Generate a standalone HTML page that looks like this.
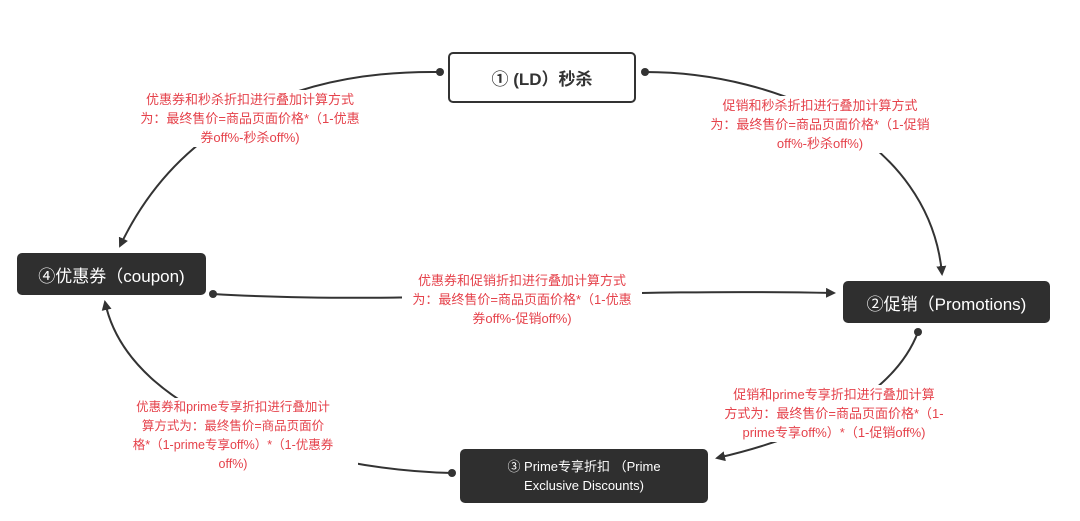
<!DOCTYPE html>
<html><head><meta charset="utf-8"><style>
body{margin:0;width:1080px;height:521px;background:#fff;position:relative;overflow:hidden;font-family:"Liberation Sans","Noto Sans CJK SC",sans-serif}
.n{position:absolute;box-sizing:border-box;display:flex;align-items:center;justify-content:center;text-align:center;border-radius:5px}
.d{background:#2f2f2f;color:#fff}
.l{position:absolute;color:#e5424b;font-size:13px;line-height:19px;text-align:center;background:#fff;white-space:nowrap}
svg{position:absolute;left:0;top:0}
</style></head><body>
<svg width="1080" height="521">
<defs><marker id="a" markerWidth="10" markerHeight="10" refX="8" refY="5" orient="auto" markerUnits="userSpaceOnUse"><path d="M0,0 L10,5 L0,10 z" fill="#333"/></marker></defs>
<g fill="none" stroke="#333" stroke-width="2">
<path d="M440,72 C300,70 180,120 120,246" marker-end="url(#a)"/>
<path d="M645,72 C780,72 930,140 942,274" marker-end="url(#a)"/>
<path d="M213,294 C400,305 600,288 834,293" marker-end="url(#a)"/>
<path d="M918,332 C900,380 840,430 717,458" marker-end="url(#a)"/>
<path d="M452,473 C320,470 130,420 105,302" marker-end="url(#a)"/>
</g>
<g fill="#333"><circle cx="440" cy="72" r="4"/><circle cx="645" cy="72" r="4"/><circle cx="213" cy="294" r="4"/><circle cx="918" cy="332" r="4"/><circle cx="452" cy="473" r="4"/></g>
</svg>
<div class="n" style="left:448px;top:52px;width:188px;height:51px;border:2px solid #333;background:#fff;color:#333;font-weight:bold;font-size:17px">① (LD）秒杀</div>
<div class="n d" style="left:17px;top:253px;width:189px;height:42px;font-size:17px">④优惠券（coupon)</div>
<div class="n d" style="left:843px;top:281px;width:207px;height:42px;font-size:17px">②促销（Promotions)</div>
<div class="n d" style="left:460px;top:449px;width:248px;height:54px;font-size:13px;line-height:19px">③ Prime专享折扣 （Prime<br>Exclusive Discounts)</div>
<div class="l" style="left:136px;top:90px;width:228px">优惠券和秒杀折扣进行叠加计算方式<br>为：最终售价=商品页面价格*（1-优惠<br>券off%-秒杀off%)</div>
<div class="l" style="left:706px;top:96px;width:228px">促销和秒杀折扣进行叠加计算方式<br>为：最终售价=商品页面价格*（1-促销<br>off%-秒杀off%)</div>
<div class="l" style="left:402px;top:271px;width:240px">优惠券和促销折扣进行叠加计算方式<br>为：最终售价=商品页面价格*（1-优惠<br>券off%-促销off%)</div>
<div class="l" style="left:716px;top:385px;width:236px">促销和prime专享折扣进行叠加计算<br>方式为：最终售价=商品页面价格*（1-<br>prime专享off%）*（1-促销off%)</div>
<div class="l" style="left:108px;top:398px;width:250px;font-size:12.5px">优惠券和prime专享折扣进行叠加计<br>算方式为：最终售价=商品页面价<br>格*（1-prime专享off%）*（1-优惠券<br>off%)</div>
</body></html>
